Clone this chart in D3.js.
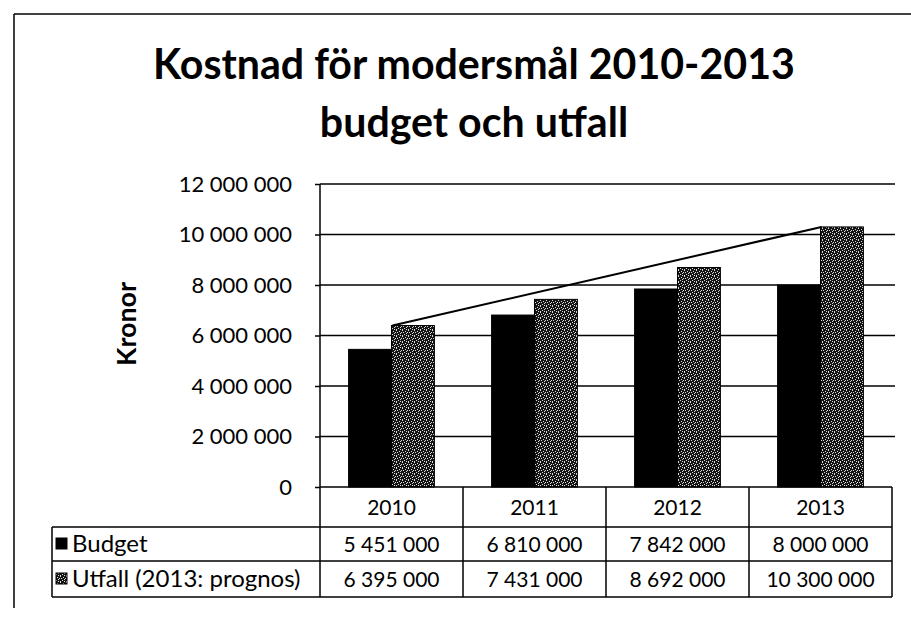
<!DOCTYPE html>
<html>
<head>
<meta charset="utf-8">
<script src="https://cdn.jsdelivr.net/npm/d3@7"></script>
<style>
  html, body { margin: 0; padding: 0; background: #fff; }
  svg { display: block; }
  text { font-family: Lato, "Open Sans", sans-serif; fill: #000; }
</style>
</head>
<body>
<svg id="chart" width="911" height="619"></svg>
<script>
// ---- data ----
const titleLines = ["Kostnad för modersmål 2010-2013", "budget och utfall"];
const yAxisTitle = "Kronor";
const years = ["2010", "2011", "2012", "2013"];
const seriesNames = ["Budget", "Utfall (2013: prognos)"];
const budget = [5451000, 6810000, 7842000, 8000000];
const utfall = [6395000, 7431000, 8692000, 10300000];
const yTicks = [0, 2000000, 4000000, 6000000, 8000000, 10000000, 12000000];

// ---- layout ----
const W = 911, H = 619;
const plot = { left: 320, right: 892, top: 184, bottom: 487 };
const tableRows = [487, 527, 561, 597];
const labelLeft = 52;

const svg = d3.select("#chart");
svg.append("rect").attr("width", W).attr("height", H).attr("fill", "#fff");

const defs = svg.append("defs");
// speckled dark-grey texture for the "Utfall" series
const pat = defs.append("pattern").attr("id", "speck")
  .attr("width", 6).attr("height", 6).attr("patternUnits", "userSpaceOnUse");
pat.append("rect").attr("width", 6).attr("height", 6).attr("fill", "#141414");
[[0,0],[3,1],[1,2],[5,2],[2,4],[4,3],[0,5],[4,5]].forEach(([px,py]) =>
  pat.append("rect").attr("x", px).attr("y", py).attr("width", 1).attr("height", 1).attr("fill", "#dcdcdc"));

const loc = d3.formatLocale({ decimal: ",", thousands: "\u00a0", grouping: [3], currency: ["", " kr"] });
const fmt = loc.format(",d");

// outer frame (top + left)
svg.append("line").attr("x1", 14).attr("x2", W).attr("y1", 14).attr("y2", 14)
  .attr("stroke", "#000").attr("stroke-width", 1.5);
svg.append("line").attr("x1", 14).attr("x2", 14).attr("y1", 14).attr("y2", 608)
  .attr("stroke", "#000").attr("stroke-width", 1.5);

// title: size fitted so that line 1 matches the reference width
const titleBase = [79, 137];
const t0 = svg.append("text").attr("font-weight", 700).attr("font-size", 40).text(titleLines[0]);
const titleSize = 40 * 642 / t0.node().getComputedTextLength();
t0.remove();
titleLines.forEach((t, i) => {
  svg.append("text").attr("x", 474).attr("y", titleBase[i])
    .attr("text-anchor", "middle").attr("font-weight", 700)
    .attr("font-size", titleSize).text(t);
});

// scales
const x0 = d3.scaleBand().domain(years).range([plot.left, plot.right]).padding(0);
const bw = x0.bandwidth();
const x1 = d3.scaleBand().domain(seriesNames).range([bw * 0.2, bw * 0.8]).padding(0);
const y = d3.scaleLinear().domain([0, 12000000]).range([plot.bottom, plot.top]);

// gridlines
svg.append("g").selectAll("line").data(yTicks.filter(d => d > 0)).join("line")
  .attr("x1", plot.left).attr("x2", plot.right + 3)
  .attr("y1", d => y(d)).attr("y2", d => y(d))
  .attr("stroke", "#000").attr("stroke-width", 1.5);

// y axis
const yAxis = d3.axisLeft(y).tickValues(yTicks).tickFormat(fmt).tickSize(5).tickPadding(23);
const gy = svg.append("g").attr("transform", `translate(${plot.left},0)`).call(yAxis);
gy.select(".domain").remove();
gy.selectAll(".tick line").attr("stroke", "#000").attr("stroke-width", 1.5);
gy.selectAll(".tick text").attr("font-size", 22).attr("font-family", "Lato, sans-serif").attr("fill", "#000");
svg.append("line").attr("x1", plot.left).attr("x2", plot.left)
  .attr("y1", plot.top).attr("y2", tableRows[3])
  .attr("stroke", "#000").attr("stroke-width", 1.5);

// axis title (fitted to the reference length)
const kt = svg.append("text").attr("transform", "translate(136,324) rotate(-90)")
  .attr("text-anchor", "middle").attr("font-weight", 700).attr("font-size", 20)
  .text(yAxisTitle);
kt.attr("font-size", 20 * 84 / kt.node().getComputedTextLength());

// bars
const seriesData = [budget, utfall];
const fills = ["#000", "url(#speck)"];
seriesData.forEach((vals, si) => {
  svg.append("g").selectAll("rect").data(vals).join("rect")
    .attr("x", (d, i) => x0(years[i]) + x1(seriesNames[si]))
    .attr("width", x1.bandwidth())
    .attr("y", d => y(d))
    .attr("height", d => y(0) - y(d))
    .attr("fill", fills[si])
    .attr("stroke", "#000").attr("stroke-width", 1);
});

// straight line from first to last "Utfall" bar top
const lineData = [0, utfall.length - 1].map(i => [x0(years[i]) + x1(seriesNames[1]) + 1, y(utfall[i])]);
svg.append("path").attr("d", d3.line()(lineData))
  .attr("fill", "none").attr("stroke", "#000").attr("stroke-width", 2);

// data table
const tg = svg.append("g");
const stroke = l => l.attr("stroke", "#000").attr("stroke-width", 1.5);
stroke(tg.append("line").attr("x1", plot.left).attr("x2", plot.right).attr("y1", tableRows[0]).attr("y2", tableRows[0]));
tableRows.slice(1).forEach(r => stroke(tg.append("line").attr("x1", labelLeft).attr("x2", plot.right).attr("y1", r).attr("y2", r)));
years.slice(1).forEach(yr => stroke(tg.append("line").attr("x1", x0(yr)).attr("x2", x0(yr)).attr("y1", tableRows[0]).attr("y2", tableRows[3])));
stroke(tg.append("line").attr("x1", plot.right).attr("x2", plot.right).attr("y1", tableRows[0]).attr("y2", tableRows[3]));
stroke(tg.append("line").attr("x1", labelLeft).attr("x2", labelLeft).attr("y1", tableRows[1]).attr("y2", tableRows[3]));

// header years
tg.selectAll("text.yr").data(years).join("text").attr("class", "yr")
  .attr("x", d => x0(d) + bw / 2).attr("y", (tableRows[0] + tableRows[1]) / 2 + 8)
  .attr("text-anchor", "middle").attr("font-size", 21).text(d => d);

// rows
seriesData.forEach((vals, si) => {
  const cy = (tableRows[si + 1] + tableRows[si + 2]) / 2;
  tg.append("rect").attr("x", 56).attr("y", cy - 6).attr("width", 11).attr("height", 11)
    .attr("fill", si === 0 ? "#000" : "url(#speck)").attr("stroke", "#000").attr("stroke-width", 1);
  tg.append("text").attr("x", 72).attr("y", cy + 8).attr("font-size", 24).text(seriesNames[si]);
  tg.append("g").selectAll("text").data(vals).join("text")
    .attr("x", (d, i) => x0(years[i]) + bw / 2).attr("y", cy + 8)
    .attr("text-anchor", "middle").attr("font-size", 21).text(d => fmt(d));
});
</script>
</body>
</html>
